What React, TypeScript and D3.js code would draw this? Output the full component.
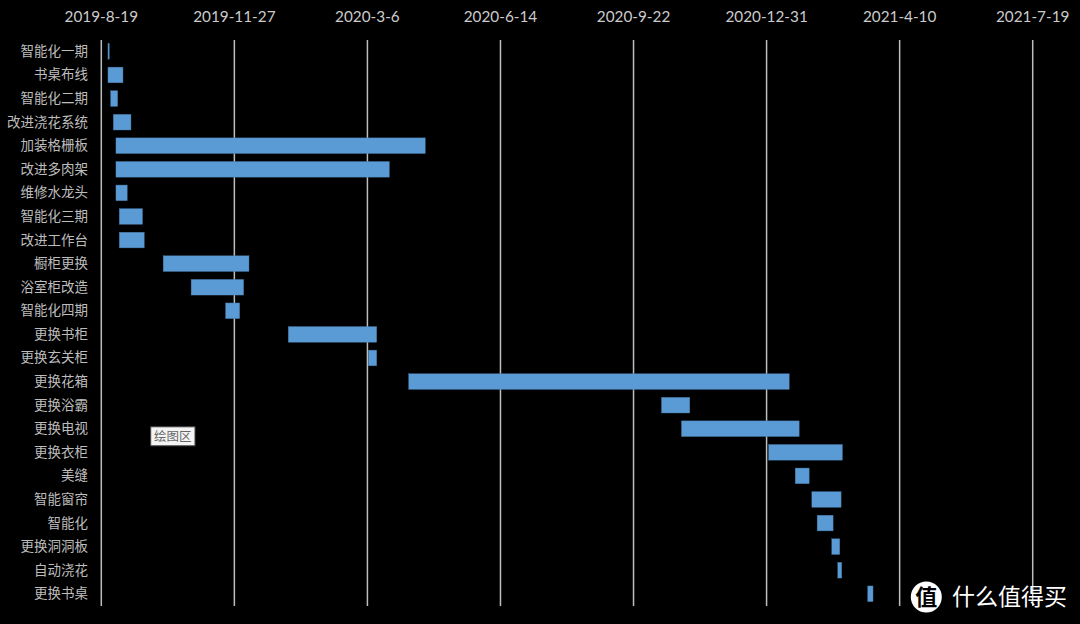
import React from "react";
import * as d3 from "d3";

const tasks = ["智能化一期","书桌布线","智能化二期","改进浇花系统","加装格栅板","改进多肉架","维修水龙头","智能化三期","改进工作台","橱柜更换","浴室柜改造","智能化四期","更换书柜","更换玄关柜","更换花箱","更换浴霸","更换电视","更换衣柜","美缝","智能窗帘","智能化","更换洞洞板","自动浇花","更换书桌"];
// days since 2019-8-19
const startDays = [5,5,7,9,11,11,11,13.5,13.5,46.5,67.5,93.4,140.5,200.7,231,421,436,501.5,521.5,534,538,549,553.5,576];
const endDays = [6,16.3,12.3,22.3,243.5,216.5,19.5,31,32.3,111,107,104,207,207,517,442.3,524.5,557,532,556,550,555,556.5,580];
const tickDays = [0,100,200,300,400,500,600,700];
const tickLabels = ["2019-8-19","2019-11-27","2020-3-6","2020-6-14","2020-9-22","2020-12-31","2021-4-10","2021-7-19"];

const x = d3.scaleLinear().domain([0, 700]).range([101.3, 1032.7]);
const y = d3.scaleBand<string>().domain(tasks).range([39.6, 605.6]).paddingInner(0.334).paddingOuter(0.167);
const latin = "Lato, 'Open Sans', sans-serif";
const cjk = "'Noto Sans CJK SC', sans-serif";

export default function App() {
  return (
    <svg width={1080} height={624} style={{ position: "absolute", left: 0, top: 0, background: "#000" }}>
      <rect width={1080} height={624} fill="#000" />
      {tickDays.map((d, i) => (
        <g key={d}>
          <line x1={x(d)} x2={x(d)} y1={40} y2={606} stroke="#bdbdbd" strokeWidth={1.5} />
          <text x={x(d)} y={21.5} textAnchor="middle" fill="#cccccc" fontSize={15.3} fontFamily={latin}>{tickLabels[i]}</text>
        </g>
      ))}
      {tasks.map((t, i) => (
        <g key={t}>
          <rect x={x(startDays[i])} width={x(endDays[i]) - x(startDays[i])} y={y(t)} height={y.bandwidth()} fill="#5b9bd5" stroke="#41719c" strokeWidth={0.4} />
          <text x={88} y={y(t)! + y.bandwidth() / 2 - 0.4} dy="0.36em" textAnchor="end" fill="#bdbdbd" fontSize={13.5} fontFamily={cjk}>{t}</text>
        </g>
      ))}
      <rect x={150.7} y={426.8} width={44.3} height={19} fill="#f4f4f4" stroke="#444" strokeWidth={1} />
      <text x={172.8} y={436.3} dy="0.36em" textAnchor="middle" fill="#666" fontSize={12.5} fontFamily={cjk}>绘图区</text>
      <circle cx={926.3} cy={597} r={15.5} fill="#fff" />
      <text x={926.3} y={597} dy="0.37em" textAnchor="middle" fill="#000" fontSize={22} fontWeight={700} fontFamily={cjk}>值</text>
      <text x={952} y={596} dy="0.37em" fill="#fff" fontSize={23} fontFamily={cjk}>什么值得买</text>
    </svg>
  );
}
